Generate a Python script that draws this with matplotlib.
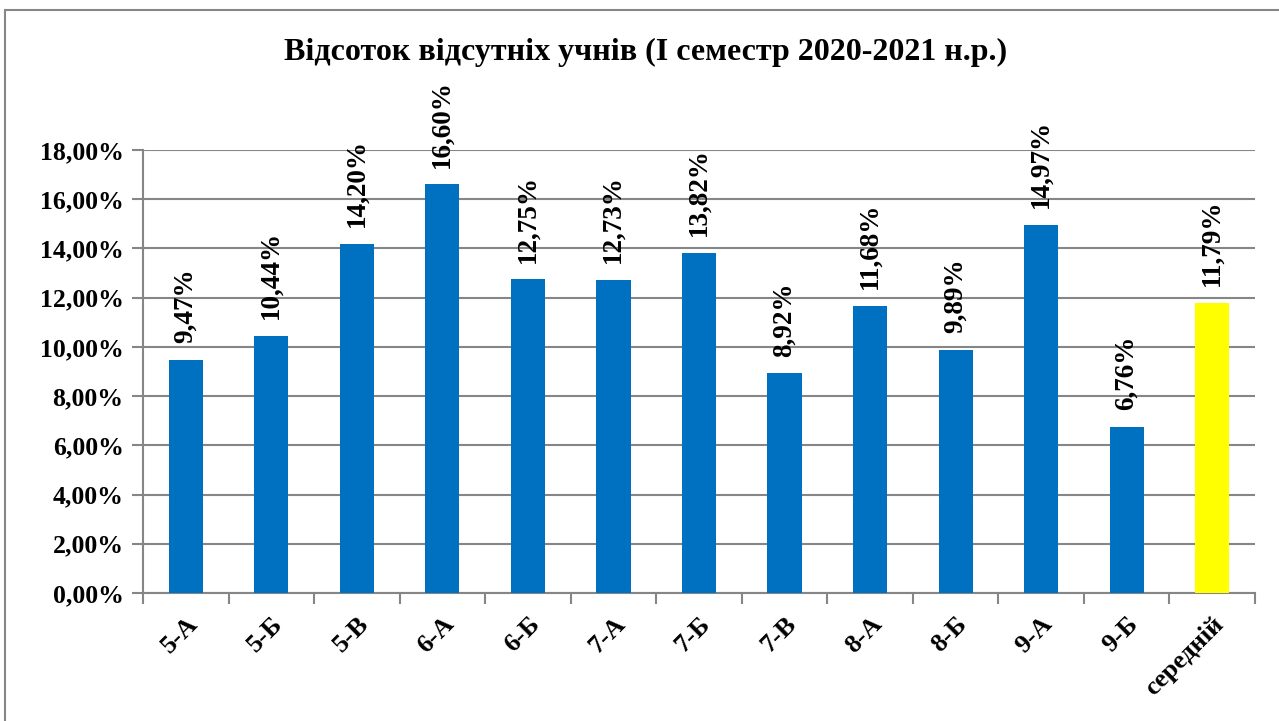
import numpy as np
import matplotlib.pyplot as plt
from matplotlib.patches import Rectangle

classes = ['5-А', '5-Б', '5-В', '6-А', '6-Б', '7-А', '7-Б', '7-В', '8-А', '8-Б', '9-А', '9-Б', 'середній']
values = [9.47, 10.44, 14.20, 16.60, 12.75, 12.73, 13.82, 8.92, 11.68, 9.89, 14.97, 6.76, 11.79]
yticks = [0, 2, 4, 6, 8, 10, 12, 14, 16, 18]

plt.rcParams['font.family'] = ['Liberation Serif', 'DejaVu Serif']
plt.rcParams['font.weight'] = 'bold'

fig = plt.figure(figsize=(12.79, 7.21), dpi=100)
ax = fig.add_axes([143/1279, 1 - 593/721, (1255-143)/1279, (593-150)/721])

# outer chart frame
fig.patches.append(Rectangle((5/1279, -0.05), 1.1, 1 - 10/721 + 0.05, transform=fig.transFigure,
                             fill=False, edgecolor='#868686', linewidth=1.5))

colors = ['#0070C0'] * (len(values) - 1) + ['#FFFF00']
x = np.arange(len(classes))
ax.bar(x, values, width=0.4, color=colors, zorder=3)

for xi, v in zip(x, values):
    ax.annotate(('%.2f%%' % v).replace('.', ','), (xi, v), xytext=(0, 12),
                textcoords='offset points', rotation=90, ha='center', va='bottom',
                fontsize=19.5, fontweight='bold')

ax.set_xlim(-0.5, len(classes) - 0.5)
ax.set_ylim(0, 18)
ax.set_yticks(yticks)
ax.set_yticklabels([('%.2f%%' % t).replace('.', ',') for t in yticks], fontsize=18.5, fontweight='bold')
ax.yaxis.grid(True, color='#868686', linewidth=1.5, zorder=0)

ax.set_xticks(np.arange(len(classes) + 1) - 0.5, minor=False)
ax.set_xticklabels([])
ax.set_xticks(x, minor=True)
ax.set_xticklabels(classes, minor=True, rotation=45, ha='right', va='top',
                   rotation_mode='anchor', fontsize=19, fontweight='bold')
ax.tick_params(axis='x', which='minor', length=0, pad=14)
ax.tick_params(axis='x', which='major', length=8, width=1.5, color='#868686', direction='out')
ax.tick_params(axis='y', length=8, width=1.5, color='#868686', direction='out', pad=6)

for side in ['top', 'right']:
    ax.spines[side].set_visible(False)
for side in ['left', 'bottom']:
    ax.spines[side].set_color('#868686')
    ax.spines[side].set_linewidth(1.5)

fig.text(0.505, 1 - 52/721, 'Відсоток відсутніх учнів (І семестр 2020-2021 н.р.)',
         ha='center', va='center', fontsize=23, fontweight='bold')

fig.savefig('out.png', dpi=100)
